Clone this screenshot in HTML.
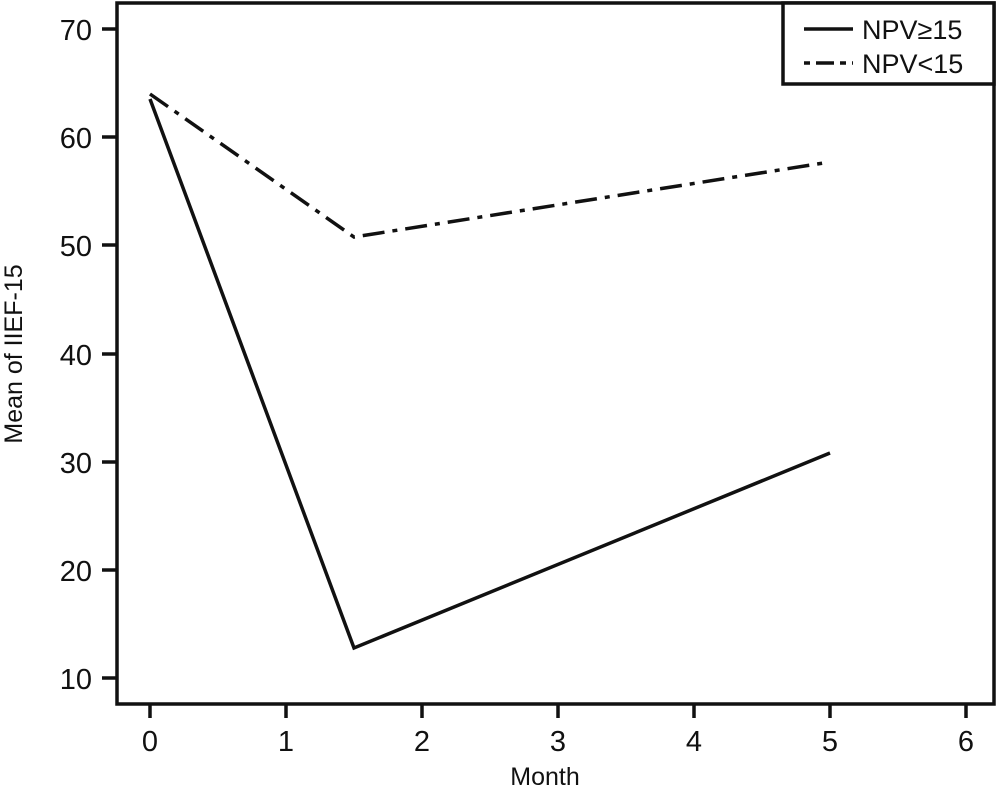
<!DOCTYPE html>
<html><head><meta charset="utf-8"><style>body{margin:0;background:#fff}</style></head><body>
<svg width="1000" height="790" viewBox="0 0 1000 790" xmlns="http://www.w3.org/2000/svg" font-family="Liberation Sans, sans-serif" fill="#111">
<rect x="117" y="3" width="877" height="701" fill="none" stroke="#111" stroke-width="3.5"/>
<g stroke="#111" stroke-width="3.5">
<line x1="102" y1="29" x2="117" y2="29"/><line x1="102" y1="137" x2="117" y2="137"/><line x1="102" y1="245" x2="117" y2="245"/><line x1="102" y1="354" x2="117" y2="354"/><line x1="102" y1="462" x2="117" y2="462"/><line x1="102" y1="570" x2="117" y2="570"/><line x1="102" y1="678" x2="117" y2="678"/>
<line x1="150" y1="704" x2="150" y2="718"/><line x1="286" y1="704" x2="286" y2="718"/><line x1="422" y1="704" x2="422" y2="718"/><line x1="558" y1="704" x2="558" y2="718"/><line x1="694" y1="704" x2="694" y2="718"/><line x1="830" y1="704" x2="830" y2="718"/><line x1="966" y1="704" x2="966" y2="718"/>
</g>
<g font-size="29" text-anchor="end">
<text x="92" y="40">70</text><text x="92" y="148">60</text><text x="92" y="256">50</text><text x="92" y="365">40</text><text x="92" y="473">30</text><text x="92" y="581">20</text><text x="92" y="689">10</text>
</g>
<g font-size="29" text-anchor="middle">
<text x="150" y="751">0</text><text x="286" y="751">1</text><text x="422" y="751">2</text><text x="558" y="751">3</text><text x="694" y="751">4</text><text x="830" y="751">5</text><text x="966" y="751">6</text>
<text x="545" y="785" font-size="25">Month</text>
<text transform="translate(22,354) rotate(-90)" font-size="25">Mean of IIEF-15</text>
</g>
<polyline points="150,99 354,648 830,453" fill="none" stroke="#111" stroke-width="3.5"/>
<polyline points="150,94 354,237 830,162" fill="none" stroke="#111" stroke-width="3.5" stroke-dasharray="22,8,5,8"/>
<rect x="783" y="3" width="211" height="81" fill="#fff" stroke="#111" stroke-width="3.5"/>
<line x1="804" y1="29" x2="853" y2="29" stroke="#111" stroke-width="3.5"/>
<line x1="804" y1="63" x2="853" y2="63" stroke="#111" stroke-width="3.5" stroke-dasharray="6,6,18,6,6"/>
<g font-size="27"><text x="862" y="39">NPV≥15</text><text x="862" y="73">NPV&lt;15</text></g>
</svg>
</body></html>
